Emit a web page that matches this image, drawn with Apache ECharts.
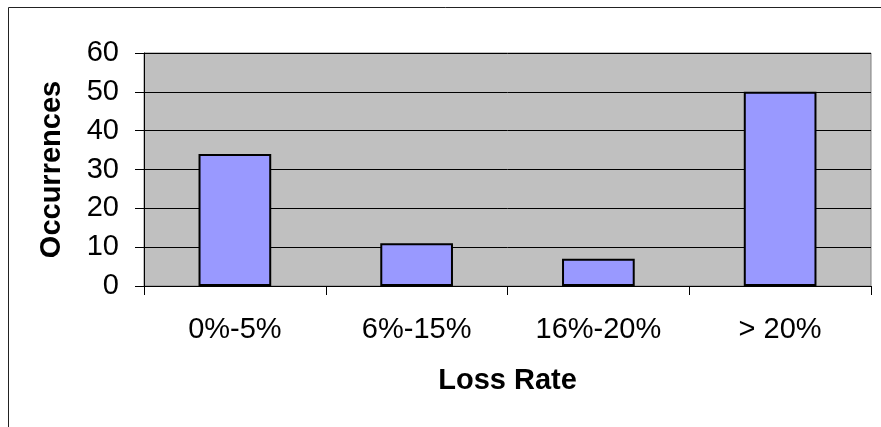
<!DOCTYPE html>
<html>
<head>
<meta charset="utf-8">
<script src="https://cdn.jsdelivr.net/npm/echarts@6/dist/echarts.min.js"></script>
<style>
  html, body { margin: 0; padding: 0; background: #fff; }
  #chart { width: 881px; height: 427px; }
</style>
</head>
<body>
<div id="chart"></div>
<script>
// Loss-rate buckets and how often each occurred
const categories = ['0%-5%', '6%-15%', '16%-20%', '> 20%'];
const occurrences = [34, 11, 7, 50];
const yTicks = [0, 10, 20, 30, 40, 50, 60];

const FONT = 'Liberation Sans, Arial, sans-serif';

const chart = echarts.init(document.getElementById('chart'), null, { renderer: 'canvas' });

chart.setOption({
  backgroundColor: '#ffffff',
  animation: false,
  graphic: [{
    type: 'rect',
    silent: true,
    shape: { x: 8.5, y: 7.5, width: 1000, height: 1000 },
    style: { fill: null, stroke: '#222', lineWidth: 1 }
  }],
  grid: {
    left: 144, top: 53, right: 10, bottom: 141,
    show: true,
    backgroundColor: '#c0c0c0',
    borderColor: '#808080',
    borderWidth: 1
  },
  xAxis: {
    type: 'category',
    data: categories,
    name: 'Loss Rate',
    nameLocation: 'middle',
    nameGap: 80,
    nameTextStyle: { fontFamily: FONT, fontSize: 29, fontWeight: 'bold', color: '#000' },
    axisLine: { show: true, lineStyle: { color: '#000', width: 1 } },
    axisTick: { show: true, alignWithLabel: false, length: 9, lineStyle: { color: '#000' } },
    axisLabel: { fontFamily: FONT, fontSize: 29, color: '#000', margin: 29 },
    splitLine: { show: false }
  },
  yAxis: {
    type: 'value',
    min: yTicks[0],
    max: yTicks[yTicks.length - 1],
    interval: 10,
    name: 'Occurrences',
    nameLocation: 'middle',
    nameRotate: 90,
    nameGap: 78,
    nameTextStyle: { fontFamily: FONT, fontSize: 29, fontWeight: 'bold', color: '#000' },
    axisLine: { show: true, lineStyle: { color: '#000', width: 1 } },
    axisTick: { show: true, length: 9, lineStyle: { color: '#000' } },
    axisLabel: { fontFamily: FONT, fontSize: 29, color: '#000', margin: 25 },
    splitLine: { show: true, lineStyle: { color: '#000', width: 1 } }
  },
  series: [{
    type: 'bar',
    data: occurrences,
    barWidth: '40%',
    itemStyle: { color: '#9999ff', borderColor: '#000', borderWidth: 2 }
  }]
});
</script>
</body>
</html>
